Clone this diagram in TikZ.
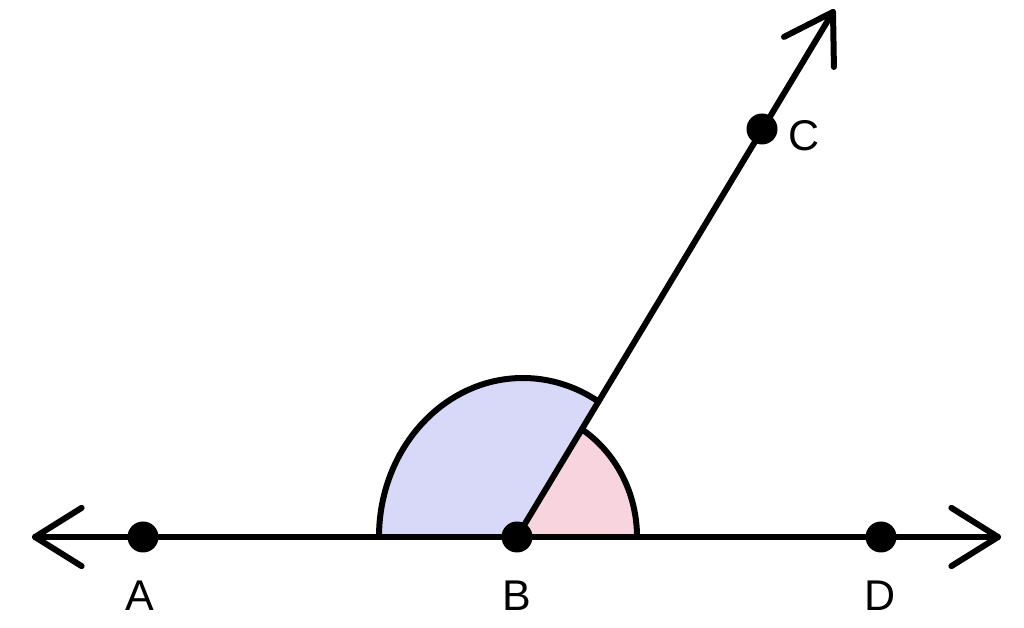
\documentclass[tikz,border=0pt]{standalone}
\usepackage{fontspec}
\setmainfont{Liberation Sans}
\usetikzlibrary{calc}
\definecolor{bluefill}{RGB}{216,216,248}
\definecolor{pinkfill}{RGB}{248,212,222}
\begin{document}
\begin{tikzpicture}[x=1pt,y=1pt,
  geoline/.style={line width=6pt, line cap=round, line join=round},
  dotnode/.style={circle, fill=black, inner sep=0pt, minimum size=31pt},
  lbl/.style={inner sep=0pt, anchor=base, font=\fontsize{43}{50}\selectfont},
]
\useasboundingbox (0,0) rectangle (1024,628);
\coordinate (Bc) at (517,91);
\coordinate (L) at (35,91);
\coordinate (R) at (998,91);
\coordinate (T) at (833,616);
\coordinate (blueStart) at (379,91);
\coordinate (pinkStart) at (637,91);
% angle fills
\fill[bluefill] (Bc) -- (blueStart) arc[start angle=180, end angle=58.4, x radius=144, y radius=159] -- cycle;
\fill[pinkfill] (Bc) -- (pinkStart) arc[start angle=0, end angle=57.3, x radius=120, y radius=128] -- cycle;
% angle arcs
\draw[geoline] (blueStart) arc[start angle=180, end angle=58.4, x radius=144, y radius=159];
\draw[geoline] (pinkStart) arc[start angle=0, end angle=57.3, x radius=120, y radius=128];
% lines
\draw[geoline] (L) -- (R);
\draw[geoline] (Bc) -- (T);
% arrowheads
\draw[geoline] ($(L)!55pt!32:(R)$) -- (L) -- ($(L)!55pt!-32:(R)$);
\draw[geoline] ($(R)!55pt!32:(L)$) -- (R) -- ($(R)!55pt!-32:(L)$);
\draw[geoline] ($(T)!55pt!32:(Bc)$) -- (T) -- ($(T)!55pt!-32:(Bc)$);
% points
\node[dotnode] (A) at (143,91) {};
\node[dotnode] (B) at (517,91) {};
\node[dotnode] (D) at (881,91) {};
\node[dotnode] (C) at (762,499) {};
% labels
\node[lbl] (la) at (140,17) {A};
\node[lbl] (lb) at (517,17) {B};
\node[lbl] (ld) at (880,17) {D};
\node[lbl] (lc) at (804,477) {C};
\end{tikzpicture}
\end{document}
